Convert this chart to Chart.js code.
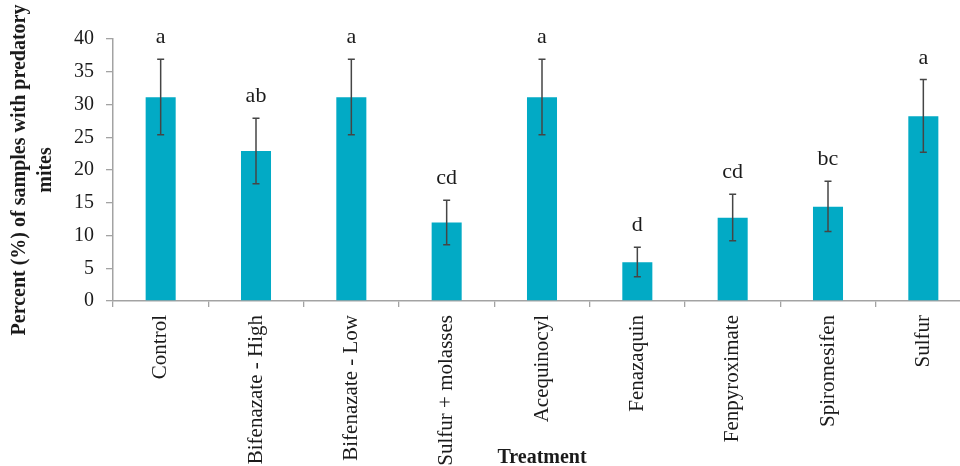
<!DOCTYPE html>
<html>
<head>
<meta charset="utf-8">
<script src="https://cdn.jsdelivr.net/npm/chart.js@4/dist/chart.umd.min.js"></script>
<style>
  html, body { margin: 0; padding: 0; background: #fff; overflow: hidden; width: 960px; height: 466px; }
  canvas { display: block; }
</style>
</head>
<body>
<canvas id="c" width="975" height="466"></canvas>
<script>
// Treatments on the x axis
const treatments = ['Control', 'Bifenazate - High', 'Bifenazate - Low', 'Sulfur + molasses',
  'Acequinocyl', 'Fenazaquin', 'Fenpyroximate', 'Spiromesifen', 'Sulfur'];
// Mean percent of samples with predatory mites
const percentMean = [31.1, 22.9, 31.1, 12.0, 31.1, 5.9, 12.7, 14.4, 28.2];
// Error bar ends
const errorLow  = [25.4, 17.9, 25.4, 8.6, 25.4, 3.7, 9.2, 10.6, 22.7];
const errorHigh = [36.9, 27.9, 36.9, 15.4, 36.9, 8.2, 16.3, 18.3, 33.8];
// Significance letters
const groupLetters = ['a', 'ab', 'a', 'cd', 'a', 'd', 'cd', 'bc', 'a'];
// Y axis ticks
const yTicks = [0, 5, 10, 15, 20, 25, 30, 35, 40];

const SERIF = '"Liberation Serif", "DejaVu Serif", serif';
const AXIS_GRAY = '#a3a3a3';
const TEXT = '#1b1b1b';

// Error bars and letters drawn through the chart's scales
const errorBarPlugin = {
  id: 'errorBars',
  afterDatasetsDraw(chart) {
    const ctx = chart.ctx;
    const meta = chart.getDatasetMeta(0);
    const y = chart.scales.y;
    ctx.save();
    ctx.strokeStyle = '#454545';
    ctx.lineWidth = 1.5;
    meta.data.forEach((bar, i) => {
      const x = bar.x;
      const yHi = y.getPixelForValue(errorHigh[i]);
      const yLo = y.getPixelForValue(errorLow[i]);
      const cap = 3.5;
      ctx.beginPath();
      ctx.moveTo(x, yHi); ctx.lineTo(x, yLo);
      ctx.moveTo(x - cap, yHi); ctx.lineTo(x + cap, yHi);
      ctx.moveTo(x - cap, yLo); ctx.lineTo(x + cap, yLo);
      ctx.stroke();
      ctx.fillStyle = TEXT;
      ctx.font = '22px ' + SERIF;
      ctx.textAlign = 'center';
      ctx.textBaseline = 'alphabetic';
      ctx.fillText(groupLetters[i], x, yHi - 16);
    });
    ctx.restore();
  }
};

new Chart(document.getElementById('c'), {
  type: 'bar',
  data: {
    labels: treatments,
    datasets: [{
      data: percentMean,
      backgroundColor: '#02aac5',
      borderWidth: 0,
      barPercentage: 0.315,
      categoryPercentage: 1.0
    }]
  },
  options: {
    responsive: false,
    animation: false,
    devicePixelRatio: 1,
    layout: { padding: { top: 39, right: 4, left: 0, bottom: 0 } },
    plugins: { legend: { display: false }, tooltip: { enabled: false } },
    scales: {
      x: {
        offset: true,
        grid: { offset: true, drawOnChartArea: false, drawTicks: true, tickLength: 6, color: AXIS_GRAY, lineWidth: 1.3 },
        border: { display: true, color: AXIS_GRAY, width: 1.5 },
        ticks: {
          autoSkip: false, minRotation: 90, maxRotation: 90, padding: 8,
          color: TEXT, font: { family: SERIF, size: 21 }
        },
        title: {
          display: true, text: 'Treatment', color: TEXT,
          font: { family: SERIF, size: 20, weight: 'bold' },
          padding: { top: 0, bottom: -4 }
        },
        afterFit(scale) { scale.height = 165; }
      },
      y: {
        min: 0, max: 40,
        afterBuildTicks(scale) { scale.ticks = yTicks.map(v => ({ value: v })); },
        grid: { drawOnChartArea: false, drawTicks: true, tickLength: 7, color: AXIS_GRAY, lineWidth: 1.3 },
        border: { display: true, color: AXIS_GRAY, width: 1.5 },
        ticks: { padding: 12, color: TEXT, font: { family: SERIF, size: 20 } },
        title: {
          display: true,
          text: ['Percent (%) of samples with predatory', 'mites'],
          color: TEXT,
          font: { family: SERIF, size: 20, weight: 'bold', lineHeight: 1.3 },
          padding: { top: 7, bottom: 0 }
        },
        afterFit(scale) { scale.width = 113; }
      }
    }
  },
  plugins: [errorBarPlugin]
});
</script>
</body>
</html>
